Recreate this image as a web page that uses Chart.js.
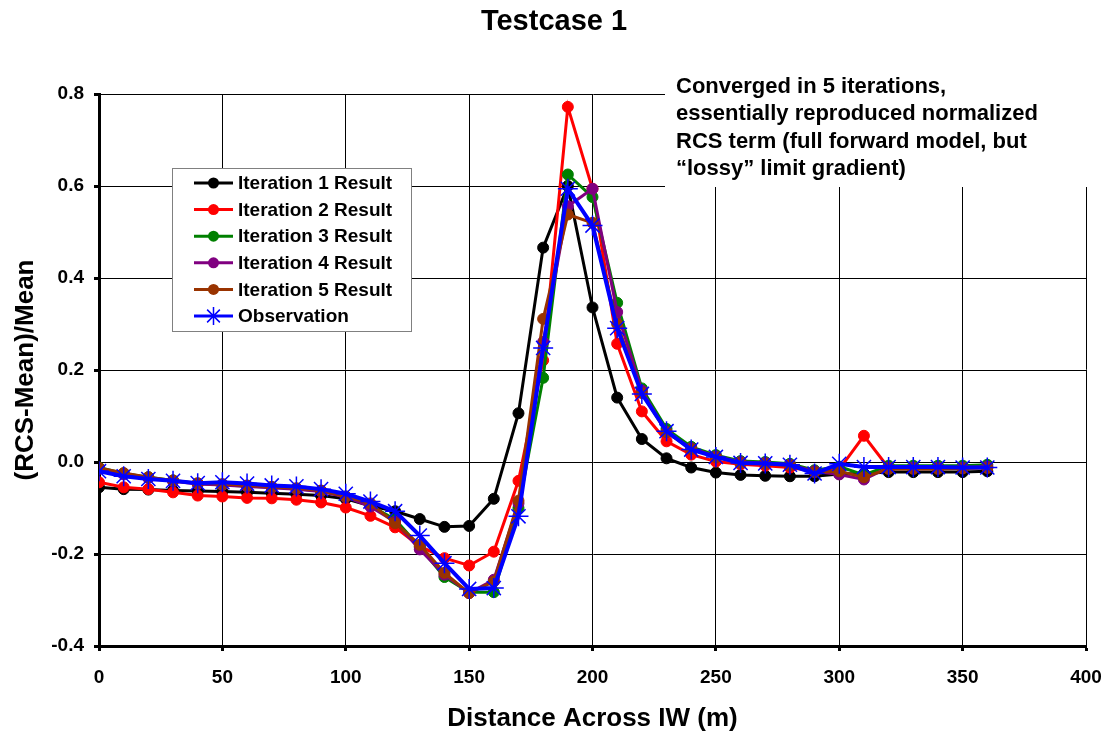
<!DOCTYPE html>
<html>
<head>
<meta charset="utf-8">
<title>Testcase 1</title>
<script src="https://cdn.jsdelivr.net/npm/chart.js@4.4.0/dist/chart.umd.min.js"></script>
<style>
    body { margin: 0; background: #fff; }
    #wrap { width: 1105px; height: 734px; }
</style>
</head>
<body>
<div id="wrap"><canvas id="rcsChart" width="1105" height="734"></canvas></div>
<script>
// Distance across IW (m)
const distance = [0, 10, 20, 30, 40, 50, 60, 70, 80, 90, 100, 110, 120, 130, 140, 150, 160, 170, 180,
    190, 200, 210, 220, 230, 240, 250, 260, 270, 280, 290, 300, 310, 320, 330, 340, 350, 360];

// (RCS-Mean)/Mean per iteration
const iter1 = [-0.055, -0.059, -0.060, -0.062, -0.063, -0.064, -0.066, -0.068, -0.070, -0.073, -0.080, -0.095,
    -0.107, -0.124, -0.141, -0.139, -0.080, 0.106, 0.466, 0.600, 0.336, 0.140, 0.050, 0.008, -0.012,
    -0.023, -0.028, -0.030, -0.031, -0.031, -0.026, -0.025, -0.022, -0.022, -0.022, -0.022, -0.020];
const iter2 = [-0.044, -0.055, -0.059, -0.066, -0.073, -0.075, -0.078, -0.079, -0.082, -0.088, -0.099, -0.117,
    -0.142, -0.183, -0.209, -0.225, -0.195, -0.041, 0.221, 0.772, 0.594, 0.257, 0.110, 0.045, 0.016,
    0.001, -0.005, -0.008, -0.012, -0.020, -0.016, 0.057, -0.013, -0.013, -0.013, -0.013, -0.012];
const iter3 = [-0.012, -0.025, -0.033, -0.040, -0.047, -0.050, -0.052, -0.055, -0.058, -0.063, -0.075, -0.095,
    -0.125, -0.185, -0.250, -0.283, -0.283, -0.100, 0.183, 0.625, 0.576, 0.346, 0.160, 0.072, 0.033,
    0.015, 0.002, 0.000, -0.004, -0.018, -0.010, -0.028, -0.008, -0.008, -0.008, -0.008, -0.006];
const iter4 = [-0.015, -0.027, -0.035, -0.042, -0.048, -0.050, -0.053, -0.056, -0.059, -0.064, -0.076, -0.097,
    -0.130, -0.190, -0.245, -0.285, -0.256, -0.090, 0.261, 0.556, 0.594, 0.326, 0.155, 0.065, 0.030,
    0.012, 0.000, -0.002, -0.006, -0.020, -0.027, -0.038, -0.012, -0.012, -0.012, -0.012, -0.010];
const iter5 = [-0.013, -0.024, -0.033, -0.040, -0.046, -0.048, -0.051, -0.054, -0.057, -0.062, -0.075, -0.090,
    -0.133, -0.180, -0.241, -0.285, -0.260, -0.084, 0.311, 0.538, 0.520, 0.300, 0.150, 0.065, 0.028,
    0.010, -0.002, -0.004, -0.008, -0.022, -0.020, -0.033, -0.015, -0.015, -0.015, -0.014, -0.013];
const observation = [-0.020, -0.031, -0.037, -0.041, -0.046, -0.044, -0.047, -0.051, -0.053, -0.059, -0.069, -0.086,
    -0.107, -0.160, -0.220, -0.276, -0.274, -0.118, 0.248, 0.594, 0.514, 0.291, 0.148, 0.067, 0.027,
    0.011, -0.002, -0.003, -0.006, -0.025, -0.004, -0.011, -0.011, -0.011, -0.011, -0.012, -0.012];

const seriesNames = ['Iteration 1 Result', 'Iteration 2 Result', 'Iteration 3 Result',
    'Iteration 4 Result', 'Iteration 5 Result', 'Observation'];
const seriesColors = ['#000000', '#ff0000', '#008000', '#800080', '#993300', '#0000ff'];
const seriesValues = [iter1, iter2, iter3, iter4, iter5, observation];

const noteLines = ['Converged in 5 iterations,', 'essentially reproduced normalized',
    'RCS term (full forward model, but', '\u201Clossy\u201D limit gradient)'];

const FONT = "'Liberation Sans', Arial, sans-serif";

function toPoints(values) {
    return distance.map((d, i) => ({ x: d, y: values[i] }));
}

const datasets = seriesValues.map((vals, i) => {
    const isObs = i === 5;
    return {
        label: seriesNames[i],
        data: toPoints(vals),
        borderColor: seriesColors[i],
        backgroundColor: seriesColors[i],
        borderWidth: isObs ? 4 : 3,
        pointStyle: isObs ? 'star' : 'circle',
        pointRadius: isObs ? 10 : 5.5,
        pointBorderWidth: isObs ? 1.5 : 1,
        pointBorderColor: seriesColors[i],
        pointBackgroundColor: seriesColors[i],
        order: 5 - i,
        tension: 0
    };
});

function drawMarker(ctx, style, color, x, y) {
    ctx.save();
    ctx.strokeStyle = color;
    ctx.fillStyle = color;
    if (style === 'star') {
        ctx.lineWidth = 1.5;
        const r = 9;
        ctx.beginPath();
        ctx.moveTo(x - r, y); ctx.lineTo(x + r, y);
        ctx.moveTo(x, y - r); ctx.lineTo(x, y + r);
        const d = r * Math.SQRT1_2;
        ctx.moveTo(x - d, y - d); ctx.lineTo(x + d, y + d);
        ctx.moveTo(x - d, y + d); ctx.lineTo(x + d, y - d);
        ctx.stroke();
    } else {
        ctx.beginPath();
        ctx.arc(x, y, 5.5, 0, Math.PI * 2);
        ctx.fill();
    }
    ctx.restore();
}

// title, note box and legend drawn on top of the plot
const decorations = {
    id: 'decorations',
    afterDraw(chart) {
        const ctx = chart.ctx;
        ctx.save();

        // title
        ctx.fillStyle = '#000';
        ctx.font = 'bold 29px ' + FONT;
        ctx.textAlign = 'center';
        ctx.textBaseline = 'middle';
        ctx.fillText('Testcase 1', 554, 22);

        // note in the upper right
        ctx.fillStyle = '#fff';
        ctx.fillRect(665, 60, 440, 127);
        ctx.fillStyle = '#000';
        ctx.font = 'bold 22px ' + FONT;
        ctx.textAlign = 'left';
        ctx.textBaseline = 'alphabetic';
        noteLines.forEach((line, i) => ctx.fillText(line, 676, 93 + i * 27.3));

        // legend box
        const bx = 172, by = 168, bw = 239, bh = 163;
        ctx.fillStyle = '#fff';
        ctx.fillRect(bx, by, bw, bh);
        ctx.strokeStyle = '#808080';
        ctx.lineWidth = 1;
        ctx.strokeRect(bx + 0.5, by + 0.5, bw, bh);

        ctx.font = 'bold 19px ' + FONT;
        ctx.textBaseline = 'middle';
        chart.data.datasets.forEach((ds, i) => {
            const y = 183 + i * 26.6;
            ctx.strokeStyle = ds.borderColor;
            ctx.lineWidth = 3;
            ctx.beginPath();
            ctx.moveTo(194, y);
            ctx.lineTo(233, y);
            ctx.stroke();
            drawMarker(ctx, ds.pointStyle, ds.borderColor, 213.5, y);
            ctx.fillStyle = '#000';
            ctx.fillText(ds.label, 238, y + 1);
        });
        ctx.restore();
    }
};

new Chart(document.getElementById('rcsChart'), {
    type: 'line',
    data: { datasets: datasets },
    options: {
        responsive: false,
        animation: false,
        devicePixelRatio: 1,
        layout: { padding: { top: 94, right: 19, left: 0, bottom: 0 } },
        plugins: {
            legend: { display: false },
            title: { display: false },
            tooltip: { enabled: false }
        },
        scales: {
            x: {
                type: 'linear',
                min: 0,
                max: 400,
                afterFit(scale) {
                    scale.height = 88;
                    scale.paddingLeft = 0;
                    scale.paddingRight = 0;
                },
                ticks: {
                    stepSize: 50,
                    padding: 15,
                    color: '#000',
                    font: { family: FONT, size: 19, weight: 'bold' }
                },
                grid: { color: '#000', lineWidth: 1, tickLength: 5, tickWidth: 3, tickColor: '#000' },
                border: { color: '#000', width: 3 },
                title: {
                    display: true,
                    text: 'Distance Across IW (m)',
                    color: '#000',
                    font: { family: FONT, size: 26, weight: 'bold' },
                    padding: { top: 4, bottom: 0 }
                }
            },
            y: {
                min: -0.4,
                max: 0.8,
                afterFit(scale) {
                    scale.width = 99;
                    scale.paddingTop = 0;
                    scale.paddingBottom = 0;
                },
                ticks: {
                    stepSize: 0.2,
                    padding: 10,
                    color: '#000',
                    font: { family: FONT, size: 19, weight: 'bold' },
                    callback: (v) => Number(v).toFixed(1)
                },
                grid: { color: '#000', lineWidth: 1, tickLength: 5, tickWidth: 3, tickColor: '#000' },
                border: { color: '#000', width: 3 },
                title: {
                    display: true,
                    text: '(RCS-Mean)/Mean',
                    color: '#000',
                    font: { family: FONT, size: 26, weight: 'bold' },
                    padding: { top: 10, bottom: 4 }
                }
            }
        }
    },
    plugins: [decorations]
});
</script>
</body>
</html>
